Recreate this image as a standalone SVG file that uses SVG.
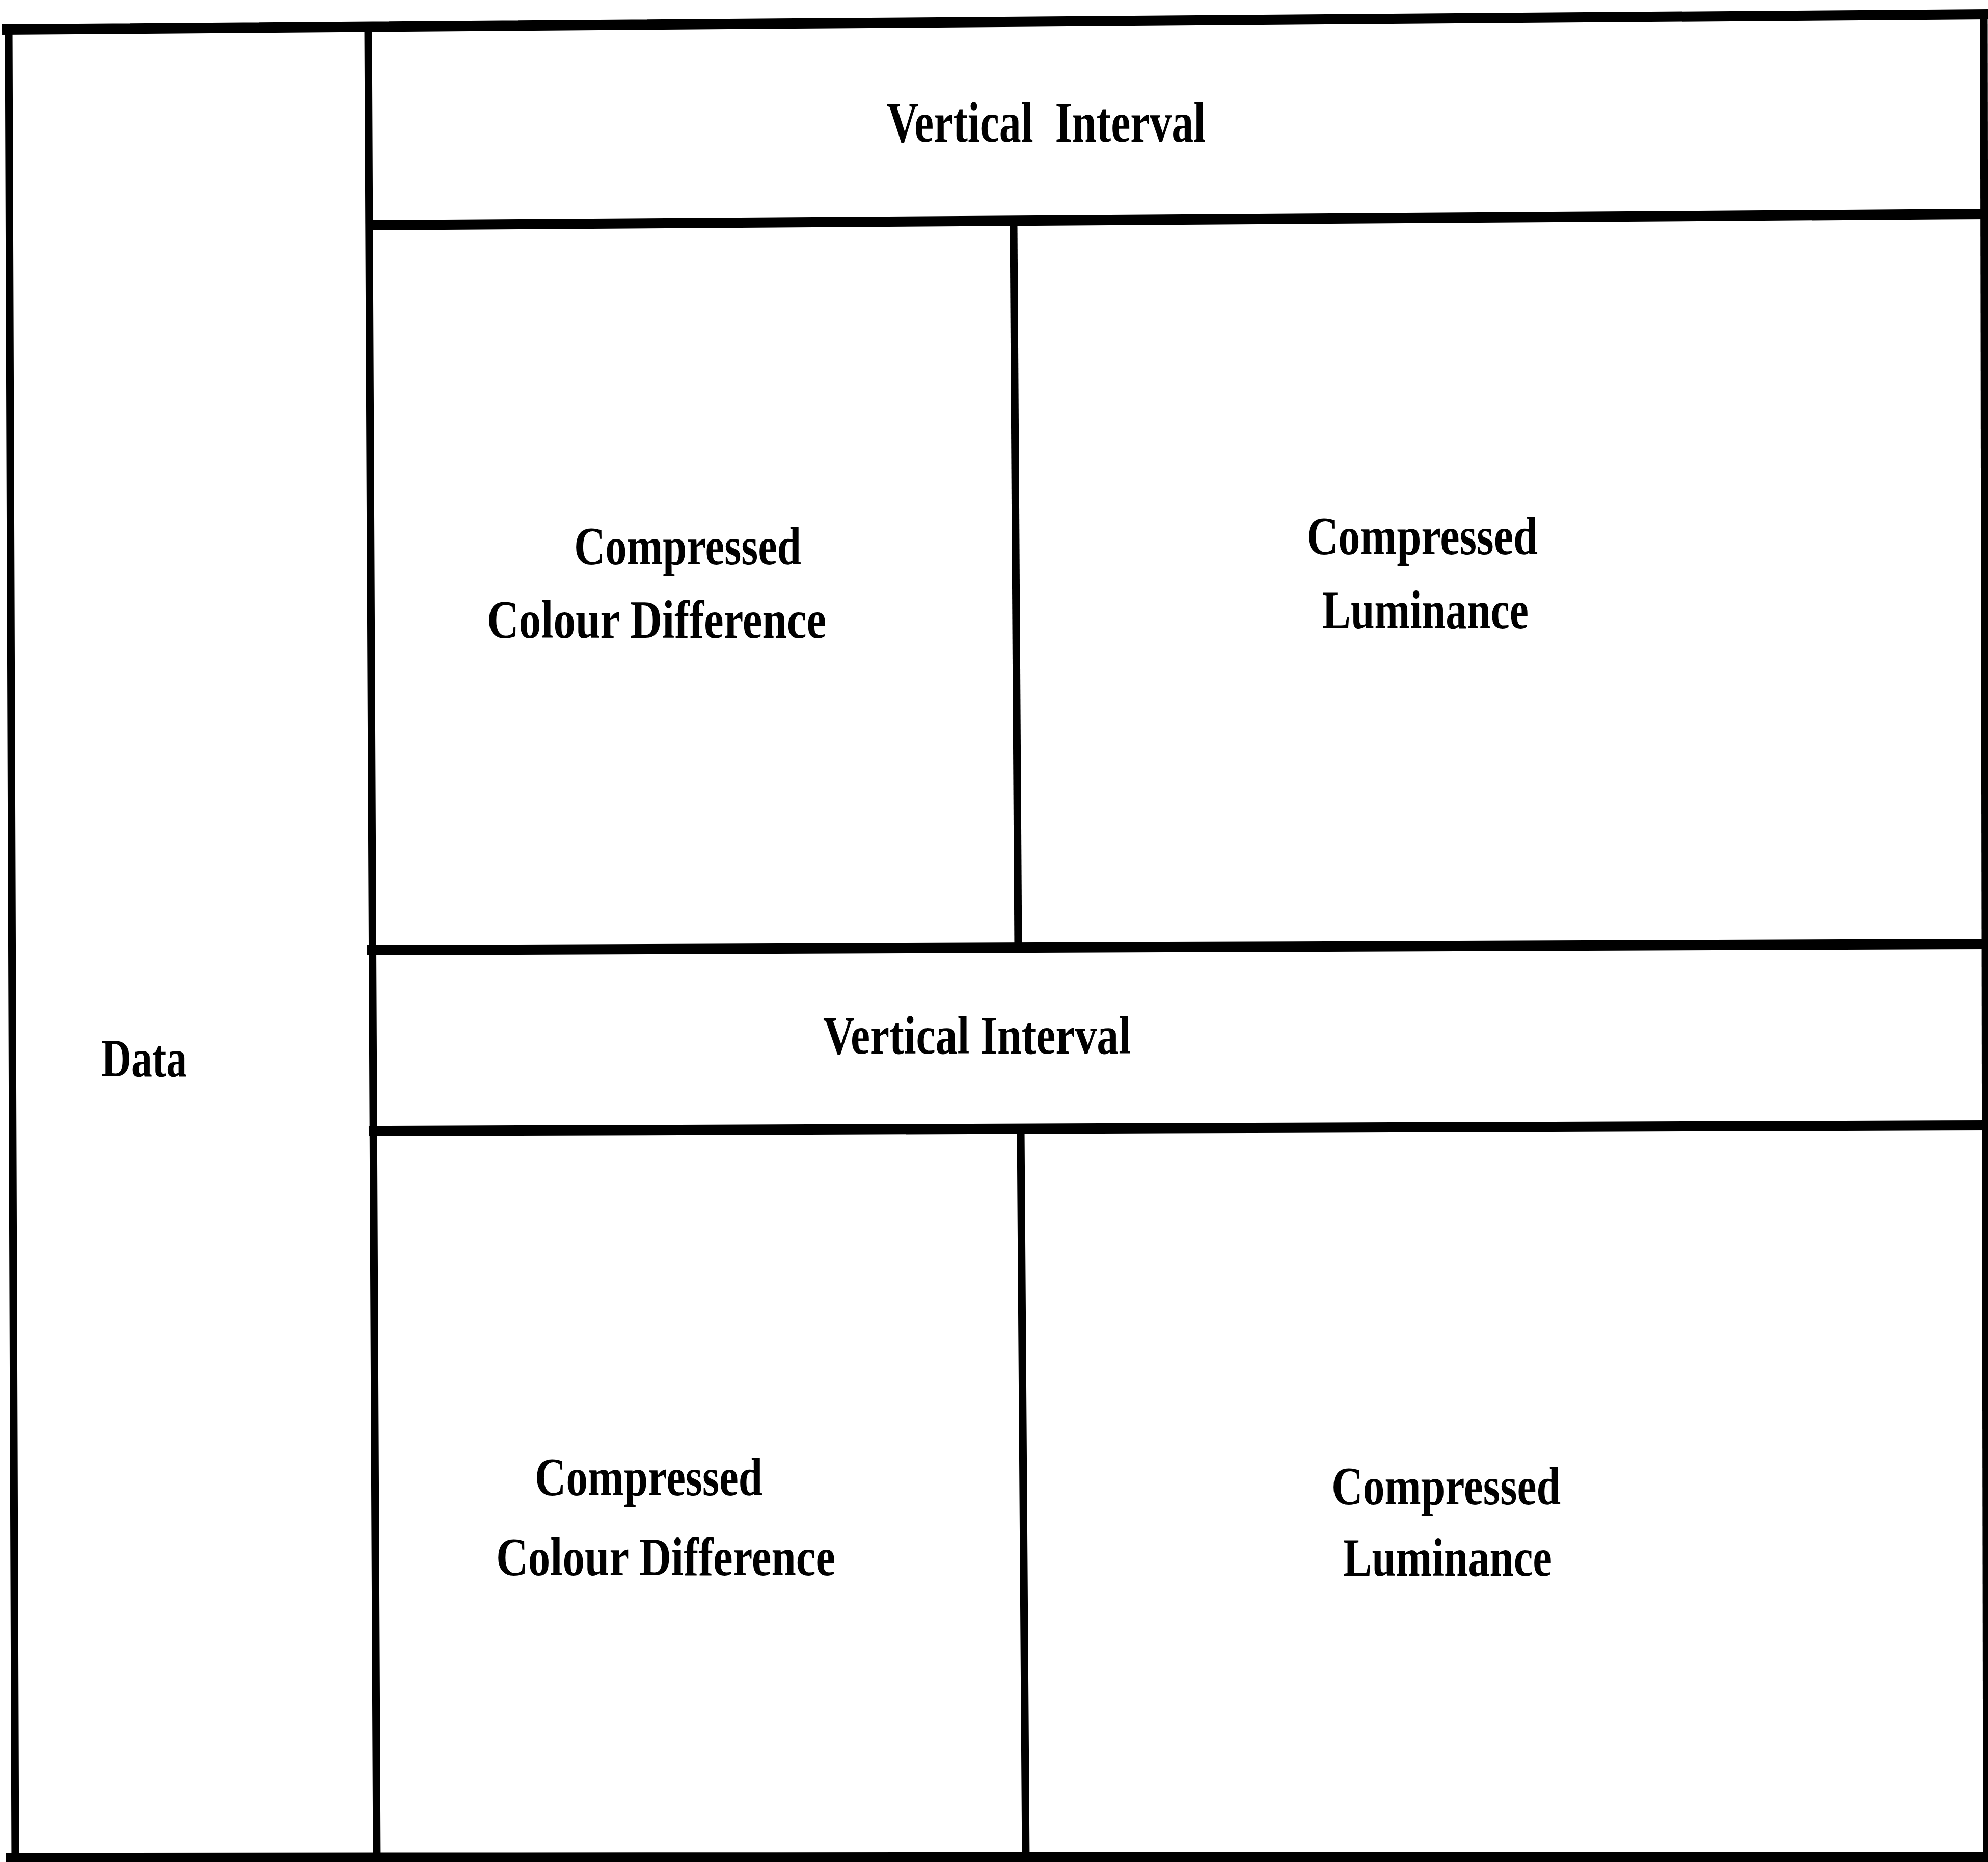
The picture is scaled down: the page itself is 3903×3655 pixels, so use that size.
<svg xmlns="http://www.w3.org/2000/svg" width="3903" height="3655" viewBox="0 0 3903 3655">
<style>
.h{stroke:#000;stroke-width:20;fill:none;stroke-linecap:square}
.v{stroke:#000;stroke-width:15;fill:none;stroke-linecap:square}
.t{font-family:"Liberation Serif","Times New Roman",serif;font-weight:bold;font-size:105px;fill:#000}
</style>
<rect x="0" y="0" width="3903" height="3655" fill="#fff"/>
<g id="frame">
<line class="h" x1="14" y1="58" x2="3903" y2="28"/>
<line class="h" x1="22" y1="3647" x2="3903" y2="3645"/>
<line class="v" x1="17" y1="55" x2="30" y2="3655"/>
<line class="v" x1="3895" y1="28" x2="3901" y2="3655"/>
<line class="v" x1="723" y1="55" x2="740" y2="3655"/>
<line class="h" x1="728" y1="442" x2="3900" y2="420"/>
<line class="v" x1="1990" y1="442" x2="1999" y2="1860"/>
<line class="h" x1="731" y1="1865" x2="3903" y2="1853"/>
<line class="h" x1="734" y1="2220" x2="3903" y2="2209"/>
<line class="v" x1="2004" y1="2218" x2="2014" y2="3650"/>
</g>
<g id="data">
<text class="t" x="199" y="2113" textLength="168" lengthAdjust="spacingAndGlyphs">Data</text>
</g>
<g id="vertical-interval-1">
<text class="t" x="1741" y="278" style="font-size:112px;white-space:pre" xml:space="preserve" textLength="626" lengthAdjust="spacingAndGlyphs">Vertical  Interval</text>
</g>
<g id="colour-difference-1">
<text class="t" x="1127" y="1108" textLength="446" lengthAdjust="spacingAndGlyphs">Compressed</text>
<text class="t" x="956" y="1252" textLength="666" lengthAdjust="spacingAndGlyphs">Colour Difference</text>
</g>
<g id="luminance-1">
<text class="t" x="2565" y="1088" textLength="454" lengthAdjust="spacingAndGlyphs">Compressed</text>
<text class="t" x="2596" y="1233" textLength="405" lengthAdjust="spacingAndGlyphs">Luminance</text>
</g>
<g id="vertical-interval-2">
<text class="t" x="1616" y="2068" textLength="604" lengthAdjust="spacingAndGlyphs">Vertical Interval</text>
</g>
<g id="colour-difference-2">
<text class="t" x="1050" y="2935" textLength="447" lengthAdjust="spacingAndGlyphs">Compressed</text>
<text class="t" x="974" y="3092" textLength="666" lengthAdjust="spacingAndGlyphs">Colour Difference</text>
</g>
<g id="luminance-2">
<text class="t" x="2614" y="2953" textLength="450" lengthAdjust="spacingAndGlyphs">Compressed</text>
<text class="t" x="2637" y="3093" textLength="410" lengthAdjust="spacingAndGlyphs">Luminance</text>
</g>
</svg>
